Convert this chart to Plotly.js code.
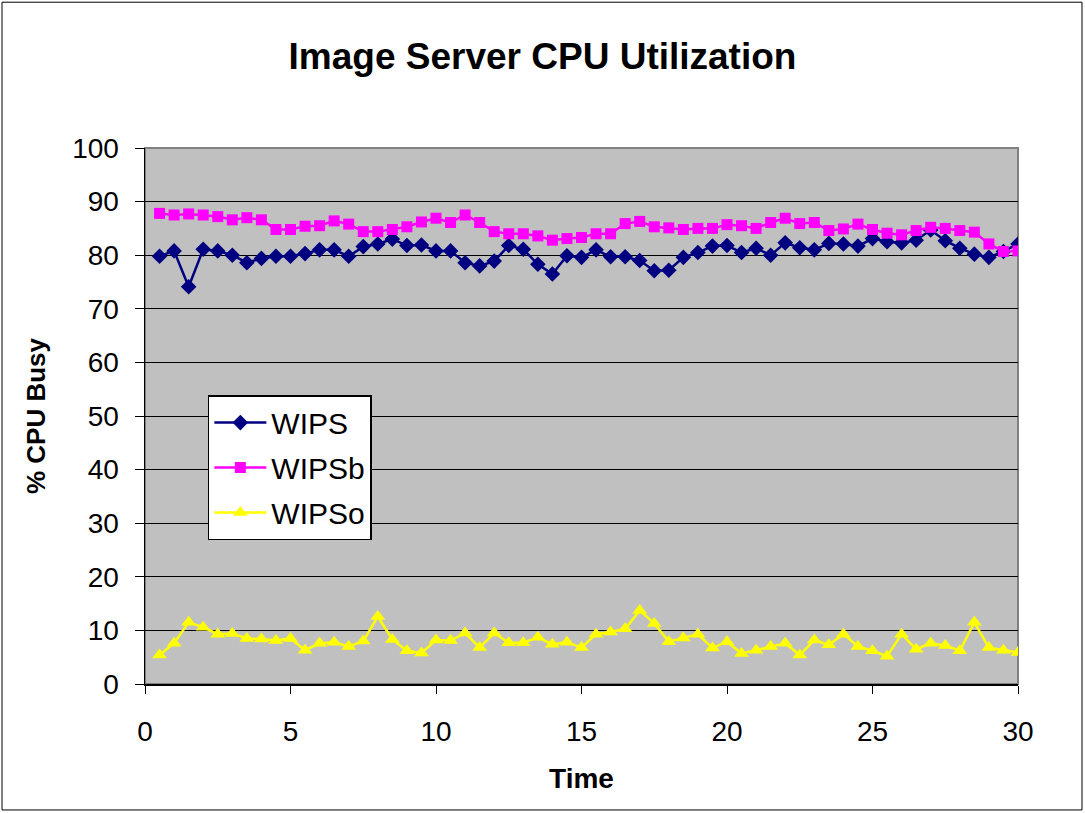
<!DOCTYPE html>
<html><head><meta charset="utf-8">
<script src="https://cdn.plot.ly/plotly-3.0.1.min.js"></script>
<style>body{margin:0;background:#fff}#chart{width:1085px;height:813px}</style>
</head><body><div id="chart"></div>
<script>
const time = [0.5,1,1.5,2,2.5,3,3.5,4,4.5,5,5.5,6,6.5,7,7.5,8,8.5,9,9.5,10,
10.5,11,11.5,12,12.5,13,13.5,14,14.5,15,15.5,16,16.5,17,17.5,18,18.5,19,19.5,20,
20.5,21,21.5,22,22.5,23,23.5,24,24.5,25,25.5,26,26.5,27,27.5,28,28.5,29,29.5,30];
const wips = [79.8,80.8,74.1,81.1,80.8,80.0,78.6,79.4,79.8,79.8,80.3,81.0,81.0,79.8,81.6,82.1,83.0,81.8,81.9,80.8,
80.8,78.6,78.0,78.9,81.8,81.1,78.3,76.5,79.9,79.6,81.0,79.7,79.7,79.0,77.1,77.2,79.6,80.5,81.7,81.8,
80.5,81.3,80.0,82.3,81.4,81.0,82.2,82.1,81.7,83.1,82.5,82.3,82.8,84.7,82.7,81.3,80.2,79.6,80.7,82.1];
const wipsb = [87.8,87.5,87.7,87.5,87.2,86.6,87.0,86.6,84.8,84.8,85.4,85.5,86.4,85.8,84.4,84.4,84.8,85.3,86.2,86.9,
86.1,87.5,86.1,84.4,84.0,84.0,83.6,82.8,83.1,83.3,84.0,84.0,85.9,86.3,85.3,85.1,84.8,85.0,85.0,85.7,
85.5,85.0,86.1,86.9,85.9,86.1,84.6,84.9,85.8,84.8,84.1,83.8,84.6,85.2,85.0,84.6,84.3,82.1,80.7,80.8];
const wipso = [5.4,7.6,11.5,10.6,9.3,9.4,8.5,8.4,8.1,8.5,6.3,7.6,7.8,7.0,8.0,12.6,8.3,6.2,5.8,8.2,
8.1,9.5,6.8,9.5,7.7,7.7,8.7,7.4,7.8,6.8,9.3,9.7,10.3,13.7,11.3,7.9,8.6,9.3,6.7,7.9,
5.7,6.3,7.0,7.6,5.4,8.2,7.3,9.3,7.0,6.2,5.2,9.3,6.5,7.6,7.2,6.2,11.5,6.8,6.3,5.9];

const font = 'Arial, "Liberation Sans", sans-serif';
const traces = [
  {x: time, y: wips, name: 'WIPS', legendgroup: 'a', mode: 'lines+markers',
   line: {color: '#000080', width: 2.5}, marker: {symbol: 'diamond', size: 12, color: '#000080'}},
  {x: time, y: wipsb, name: 'WIPSb', legendgroup: 'b', mode: 'lines+markers',
   line: {color: '#FF00FF', width: 2.5}, marker: {symbol: 'square', size: 11, color: '#FF00FF'}},
  {x: time, y: wipso, name: 'WIPSo', legendgroup: 'c', mode: 'lines+markers',
   line: {color: '#FFFF00', width: 2.5}, marker: {symbol: 'triangle-up', size: 13, color: '#FFFF00'}}
];
const layout = {
  width: 1085, height: 813,
  margin: {l: 145, r: 67, t: 148, b: 129},
  paper_bgcolor: '#ffffff', plot_bgcolor: '#C0C0C0',
  font: {family: font, color: '#000'},
  title: {text: '<b>Image Server CPU Utilization</b>', x: 0.5, xanchor: 'center', y: 0.931, yanchor: 'middle',
          font: {size: 37, family: font, color: '#000'}},
  xaxis: {range: [0, 30], dtick: 5, tick0: 0, showgrid: false, zeroline: false,
          showline: true, linecolor: '#000', linewidth: 1.5, mirror: false,
          ticks: 'outside', ticklen: 8, tickcolor: '#000', tickfont: {size: 28}, ticklabelstandoff: 14,
          title: {text: '<b>Time</b>', font: {size: 28}, standoff: 22}},
  yaxis: {range: [0, 100], dtick: 10, tick0: 0, showgrid: true, gridcolor: '#000', gridwidth: 1,
          zeroline: false, showline: true, linecolor: '#000', linewidth: 1.5,
          ticks: 'outside', ticklen: 9, tickcolor: '#000', tickfont: {size: 28}, ticklabelstandoff: 10,
          title: {text: '<b>% CPU Busy</b>', font: {size: 26}, standoff: 19}},
  legend: {x: 0.072, y: 0.539, xanchor: 'left', yanchor: 'top', bgcolor: '#ffffff',
           bordercolor: '#000', borderwidth: 1.5, font: {size: 30}, tracegroupgap: 3, itemwidth: 52},
  showlegend: true,
  shapes: [
    {type: 'rect', xref: 'paper', yref: 'paper', x0: 0, x1: 1, y0: 0, y1: 1,
     line: {color: '#808080', width: 2}, layer: 'below'},
    {type: 'rect', xref: 'paper', yref: 'paper', x0: -0.1638, x1: 1.0733, y0: -0.235, y1: 1.272,
     line: {color: '#000', width: 1}}
  ]
};
Plotly.newPlot('chart', traces, layout, {displayModeBar: false, staticPlot: true});
</script></body></html>
